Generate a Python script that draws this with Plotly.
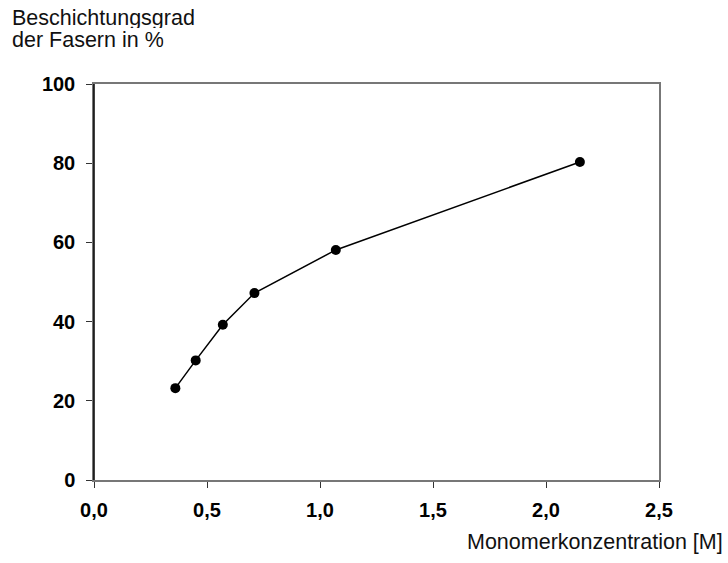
import plotly.graph_objects as go

konz = [0.36, 0.45, 0.57, 0.71, 1.07, 2.15]
grad = [23.2, 30.2, 39.2, 47.2, 58.1, 80.3]
x_ticks = [0, 0.5, 1.0, 1.5, 2.0, 2.5]
x_labels = ["0,0", "0,5", "1,0", "1,5", "2,0", "2,5"]
y_ticks = [0, 20, 40, 60, 80, 100]
title_lines = ["Beschichtungsgrad", "der Fasern in %"]
x_title = "Monomerkonzentration [M]"

L, R, T, B = 94, 69, 84, 83
PW, PH = 728 - L - R, 563 - T - B


def px(xp):
    return (xp - L) / PW


def py(yp):
    return (563 - B - yp) / PH


fig = go.Figure()
fig.add_trace(go.Scatter(
    x=konz, y=grad, mode="lines+markers",
    line=dict(color="black", width=1.5),
    marker=dict(color="black", size=10),
    showlegend=False,
))

tickfont = dict(size=20, family="Liberation Sans, Arial", weight="bold", color="black")
fig.update_layout(
    width=728, height=563,
    margin=dict(l=L, r=R, t=T, b=B),
    paper_bgcolor="white", plot_bgcolor="white",
    font=dict(family="Liberation Sans, Arial", color="black"),
    xaxis=dict(
        range=[0, 2.5], tickvals=x_ticks, ticktext=x_labels,
        showgrid=False, zeroline=False, showline=True, linecolor="#777777",
        linewidth=1.5, mirror=True, ticks="outside", ticklen=6, tickcolor="#333333",
        tickfont=tickfont, ticklabelstandoff=5,
    ),
    yaxis=dict(
        range=[0, 100], tickvals=y_ticks,
        showgrid=False, zeroline=False, showline=True, linecolor="#777777",
        linewidth=1.5, mirror=True, ticks="outside", ticklen=6, tickcolor="#333333",
        tickfont=tickfont, ticklabelstandoff=7,
    ),
    annotations=[
        dict(text=title_lines[0], xref="paper", yref="paper",
             x=px(10), y=py(18), xanchor="left", yanchor="middle",
             height=21, valign="middle",
             showarrow=False, font=dict(size=21.5, color="#111111")),
        dict(text=title_lines[1], xref="paper", yref="paper",
             x=px(10), y=py(39), xanchor="left", yanchor="middle",
             height=21, valign="middle",
             showarrow=False, font=dict(size=21.5, color="#111111")),
        dict(text=x_title, xref="paper", yref="paper",
             x=px(725), y=py(542), xanchor="right", yanchor="middle",
             showarrow=False, font=dict(size=21.5, color="#111111")),
    ],
)
# left axis appears black
fig.add_shape(type="line", xref="paper", yref="paper", x0=0, x1=0, y0=0, y1=1,
              line=dict(color="black", width=1.5))

fig.write_html("out.html")
